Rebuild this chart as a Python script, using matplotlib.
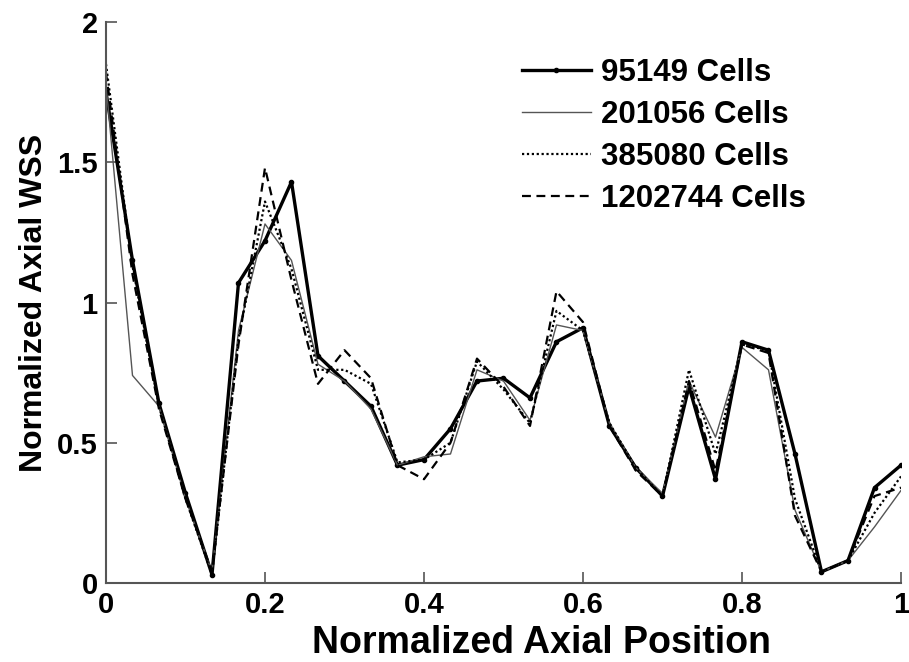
import numpy as np
import matplotlib
matplotlib.use("Agg")
import matplotlib.pyplot as plt

plt.rcParams["font.family"] = ["Liberation Sans", "DejaVu Sans"]
plt.rcParams["font.weight"] = "bold"

# axial stations (31 equally spaced), normalized WSS per mesh
position = np.arange(31) / 30.0
wss_95149 = [1.75, 1.15, 0.64, 0.32, 0.03, 1.07, 1.22, 1.43, 0.81, 0.72, 0.63,
             0.42, 0.44, 0.55, 0.72, 0.73, 0.66, 0.86, 0.91, 0.56, 0.41, 0.31,
             0.70, 0.37, 0.86, 0.83, 0.46, 0.04, 0.08, 0.34, 0.42]
wss_201056 = [1.78, 0.74, 0.63, 0.30, 0.04, 0.90, 1.28, 1.15, 0.78, 0.72, 0.62,
              0.42, 0.45, 0.46, 0.76, 0.72, 0.58, 0.92, 0.90, 0.57, 0.41, 0.32,
              0.72, 0.52, 0.84, 0.76, 0.26, 0.04, 0.08, 0.20, 0.33]
wss_385080 = [1.85, 1.13, 0.63, 0.30, 0.03, 0.87, 1.36, 1.12, 0.76, 0.76, 0.71,
              0.43, 0.44, 0.50, 0.79, 0.69, 0.57, 0.97, 0.90, 0.57, 0.41, 0.31,
              0.76, 0.46, 0.85, 0.83, 0.30, 0.04, 0.08, 0.25, 0.38]
wss_1202744 = [1.82, 1.10, 0.62, 0.30, 0.04, 0.85, 1.48, 1.08, 0.71, 0.83, 0.73,
               0.42, 0.37, 0.50, 0.80, 0.70, 0.56, 1.04, 0.93, 0.56, 0.40, 0.31,
               0.72, 0.40, 0.85, 0.82, 0.24, 0.04, 0.08, 0.31, 0.34]
labels = ["95149 Cells", "201056 Cells", "385080 Cells", "1202744 Cells"]

fig = plt.figure(figsize=(9.09, 6.62), dpi=100)
ax = fig.add_axes([0.1166, 0.1193, 0.8746, 0.8475])

ax.plot(position, wss_95149, color="black", lw=2.4, marker=".", ms=6, label=labels[0])
ax.plot(position, wss_201056, color="#555555", lw=1.0, label=labels[1])
ax.plot(position, wss_385080, color="black", lw=1.6, ls=(0, (1, 1.2)), label=labels[2])
ax.plot(position, wss_1202744, color="black", lw=1.6, ls=(0, (4, 2.5)), label=labels[3])

ax.set_xlim(0, 1)
ax.set_ylim(0, 2)
ax.set_xticks([0, 0.2, 0.4, 0.6, 0.8, 1])
ax.set_xticklabels(["0", "0.2", "0.4", "0.6", "0.8", "1"])
ax.set_yticks([0, 0.5, 1, 1.5, 2])
ax.set_yticklabels(["0", "0.5", "1", "1.5", "2"])
ax.tick_params(direction="in", length=8, width=1.2, color="#555555",
               labelsize=21, pad=6)
for side in ["top", "right"]:
    ax.spines[side].set_visible(False)
for side in ["left", "bottom"]:
    ax.spines[side].set_color("#555555")
    ax.spines[side].set_linewidth(1.5)

ax.set_xlabel("Normalized Axial Position", fontsize=27, fontweight="bold")
ax.xaxis.set_label_coords(0.548, -0.075)
ax.set_ylabel("Normalized Axial WSS", fontsize=23, fontweight="bold", labelpad=6)

ax.legend(loc="upper left", bbox_to_anchor=(0.523, 0.936), frameon=False,
          fontsize=22.5, handlelength=2.2, handletextpad=0.35, labelspacing=0.38,
          borderpad=0, borderaxespad=0)

fig.savefig("out.png", dpi=100)
